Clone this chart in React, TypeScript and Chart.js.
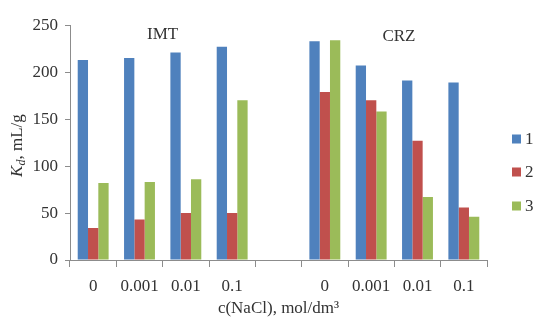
import React, { useEffect, useRef } from "react";
import { Chart, registerables } from "chart.js";

Chart.register(...registerables);

const categories = ["0", "0.001", "0.01", "0.1", "", "0", "0.001", "0.01", "0.1"];
const series1 = [213, 215, 221, 227, null, 233, 207, 191, 189];
const series2 = [34, 43, 50, 50, null, 179, 170, 127, 56];
const series3 = [82, 83, 86, 170, null, 234, 158, 67, 46];
const seriesNames = ["1", "2", "3"];
const colors = ["#4F81BD", "#C0504D", "#9BBB59"];
const groupLabels = ["IMT", "CRZ"];
const yTicks = { min: 0, max: 250, step: 50 };

const FONT = "'Liberation Serif', 'Times New Roman', serif";
const AXIS_COLOR = "#8C8C8C";
const TEXT = "#333";

const overlayPlugin = {
  id: "overlay",
  afterDraw(chart: any) {
    const ctx = chart.ctx;
    const area = chart.chartArea;
    const xs = chart.scales.x;
    const ys = chart.scales.y;
    ctx.save();
    ctx.fillStyle = TEXT;
    ctx.textAlign = "center";
    ctx.textBaseline = "middle";
    ctx.font = `17px ${FONT}`;
    ctx.fillText(groupLabels[0], xs.getPixelForValue(1.5), ys.getPixelForValue(240));
    ctx.fillText(groupLabels[1], xs.getPixelForValue(6.6), ys.getPixelForValue(238));

    // y axis title with subscript
    const cx = 9;
    const cy = (area.top + area.bottom) / 2 + 3;
    ctx.translate(cx, cy);
    ctx.rotate(-Math.PI / 2);
    const bigI = `italic 17px ${FONT}`;
    const smallI = `italic 12px ${FONT}`;
    const big = `17px ${FONT}`;
    ctx.font = bigI;
    const wK = ctx.measureText("K").width;
    ctx.font = smallI;
    const wd = ctx.measureText("d").width;
    ctx.font = big;
    const rest = ", mL/g";
    const wr = ctx.measureText(rest).width;
    const total = wK + wd + wr;
    let x = -total / 2;
    ctx.textAlign = "left";
    ctx.textBaseline = "alphabetic";
    const base = 5;
    ctx.font = bigI;
    ctx.fillText("K", x, base);
    x += wK;
    ctx.font = smallI;
    ctx.fillText("d", x, base + 3);
    x += wd;
    ctx.font = big;
    ctx.fillText(rest, x, base);
    ctx.restore();

    // legend
    ctx.save();
    ctx.font = `17px ${FONT}`;
    ctx.textBaseline = "middle";
    ctx.textAlign = "left";
    const rows = [131, 164, 198];
    chart.data.datasets.forEach((ds: any, i: number) => {
      ctx.fillStyle = ds.backgroundColor;
      ctx.fillRect(504, rows[i] - 4.5, 9, 9);
      ctx.fillStyle = TEXT;
      ctx.fillText(ds.label, 517, rows[i] + 1);
    });
    ctx.restore();
  },
};

export default function App() {
  const ref = useRef<HTMLCanvasElement | null>(null);
  useEffect(() => {
    if (!ref.current) return;
    const datasets = [series1, series2, series3].map((d, i) => ({
      label: seriesNames[i],
      data: d,
      backgroundColor: colors[i],
      borderWidth: 0,
      barPercentage: 1,
      categoryPercentage: 0.667,
    }));
    const chart = new Chart(ref.current, {
      type: "bar",
      data: { labels: categories, datasets },
      options: {
        animation: false,
        responsive: false,
        layout: { padding: { left: 0, right: 55, top: 12, bottom: 0 } },
        plugins: { legend: { display: false }, tooltip: { enabled: false } },
        scales: {
          x: {
            afterFit: (s: any) => {
              s.height = 62;
            },
            border: { color: AXIS_COLOR, width: 1 },
            grid: {
              offset: true,
              drawOnChartArea: false,
              drawTicks: true,
              tickLength: 7,
              color: AXIS_COLOR,
            },
            ticks: {
              color: TEXT,
              font: { family: FONT, size: 17 },
              padding: 9,
              maxRotation: 0,
              autoSkip: false,
            },
            title: {
              display: true,
              text: "c(NaCl), mol/dm³",
              color: TEXT,
              font: { family: FONT, size: 17 },
              padding: { top: 4, bottom: 3 },
            },
          },
          y: {
            min: yTicks.min,
            max: yTicks.max,
            afterFit: (s: any) => {
              s.width = 62;
            },
            border: { color: AXIS_COLOR, width: 1 },
            grid: {
              drawOnChartArea: false,
              drawTicks: true,
              tickLength: 5,
              color: AXIS_COLOR,
            },
            ticks: {
              stepSize: yTicks.step,
              color: TEXT,
              font: { family: FONT, size: 17 },
              padding: 7,
            },
          },
        },
      },
      plugins: [overlayPlugin],
    });
    return () => chart.destroy();
  }, []);
  return (
    <div style={{ width: 534, height: 314 }}>
      <canvas ref={ref} width={534} height={314} style={{ display: "block" }} />
    </div>
  );
}
